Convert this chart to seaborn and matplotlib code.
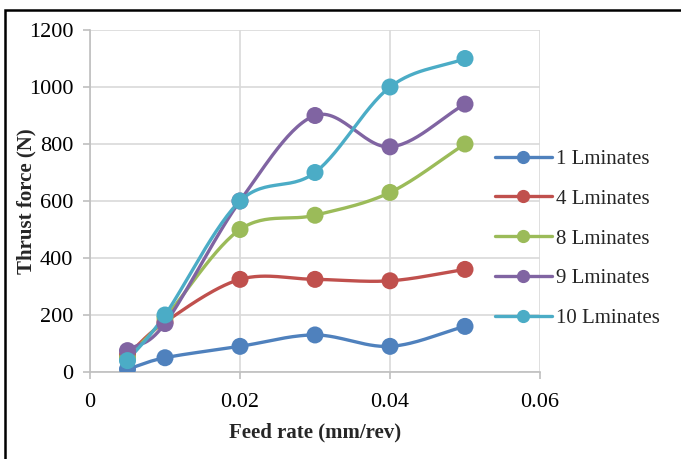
import numpy as np
import pandas as pd
import matplotlib
matplotlib.use("Agg")
import matplotlib.pyplot as plt
import seaborn as sns
from matplotlib.lines import Line2D
from matplotlib.patches import Rectangle

feed_rate = [0.005, 0.01, 0.02, 0.03, 0.04, 0.05]
series_names = ["1 Lminates", "4 Lminates", "8 Lminates", "9 Lminates", "10 Lminates"]
l1 = [10, 50, 90, 130, 90, 160]
l4 = [60, 175, 325, 325, 320, 360]
l8 = [50, 190, 500, 550, 630, 800]
l9 = [75, 170, 600, 900, 790, 940]
l10 = [40, 200, 600, 700, 1000, 1100]
colors = ["#4F81BD", "#C0504D", "#9BBB59", "#8064A2", "#4BACC6"]
x_ticks = [0, 0.02, 0.04, 0.06]
x_tick_labels = ["0", "0.02", "0.04", "0.06"]
y_ticks = [0, 200, 400, 600, 800, 1000, 1200]

sns.set_theme(style="white")
plt.rcParams["font.family"] = ["Liberation Serif", "DejaVu Serif"]


def smooth(xs, ys, n=30):
    """Catmull-Rom curve through the points (Excel-like smoothed line rendering)."""
    sx, sy = 0.06, 1200.0
    P = np.column_stack([np.asarray(xs) / sx, np.asarray(ys) / sy])
    P = np.vstack([P[0] * 2 - P[1], P, P[-1] * 2 - P[-2]])
    out = []
    for i in range(1, len(P) - 2):
        p0, p1, p2, p3 = P[i - 1], P[i], P[i + 1], P[i + 2]
        t = np.linspace(0, 1, n, endpoint=False)[:, None]
        seg = 0.5 * ((2 * p1) + (-p0 + p2) * t + (2 * p0 - 5 * p1 + 4 * p2 - p3) * t ** 2
                     + (-p0 + 3 * p1 - 3 * p2 + p3) * t ** 3)
        out.append(seg)
    out.append(P[-2][None, :])
    arr = np.vstack(out)
    return arr[:, 0] * sx, arr[:, 1] * sy


fig = plt.figure(figsize=(6.81, 4.59), dpi=100)
ax = fig.add_axes([90 / 681, 1 - 372 / 459, 450 / 681, 342 / 459])

all_series = [l1, l4, l8, l9, l10]
handles = []
for name, vals, c in zip(series_names, all_series, colors):
    sxv, syv = smooth(feed_rate, vals)
    dense = pd.DataFrame({"x": sxv, "y": syv})
    sns.lineplot(data=dense, x="x", y="y", ax=ax, color=c, linewidth=2.4, sort=False,
                 estimator=None, zorder=3)
    pts = pd.DataFrame({"x": feed_rate, "y": vals})
    sns.scatterplot(data=pts, x="x", y="y", ax=ax, color=c, s=150, edgecolor="none", zorder=4)
    handles.append(Line2D([0], [0], color=c, lw=2.4, marker="o", markersize=8.5))

ax.set_xlim(0, 0.06)
ax.set_ylim(0, 1200)
ax.set_xticks(x_ticks)
ax.set_xticklabels(x_tick_labels)
ax.set_yticks(y_ticks)
ax.grid(True, color="#D9D9D9", linewidth=1.2)
ax.set_axisbelow(True)
for s in ["top", "right"]:
    ax.spines[s].set_visible(False)
for s in ["left", "bottom"]:
    ax.spines[s].set_color("#BFBFBF")
    ax.spines[s].set_linewidth(1.2)
ax.tick_params(axis="both", which="major", direction="out", length=5, width=1.2,
               color="#BFBFBF", labelsize=16, labelcolor="black")
ax.tick_params(axis="x", pad=10)
ax.tick_params(axis="y", pad=7)
ax.tick_params(axis="both", bottom=True, left=True)
ax.set_xlabel("Feed rate (mm/rev)", fontsize=15, fontweight="bold", labelpad=8)
ax.set_ylabel("Thrust force (N)", fontsize=15, fontweight="bold")
ax.yaxis.set_label_coords(-(90 - 36) / 450, 0.5)

leg = fig.legend(handles=handles, labels=series_names, loc="upper left",
                 bbox_to_anchor=(487 / 681, 1 - 141 / 459), frameon=False, fontsize=15,
                 handlelength=2.7, handletextpad=0.2, labelspacing=0.97, numpoints=1,
                 borderaxespad=0)

fig.patches.append(Rectangle((5 / 681, -0.1), 1.2, 1 - 10 / 459 + 0.1, transform=fig.transFigure,
                             fill=False, edgecolor="black", linewidth=1.8))

fig.savefig("out.png", dpi=100)
